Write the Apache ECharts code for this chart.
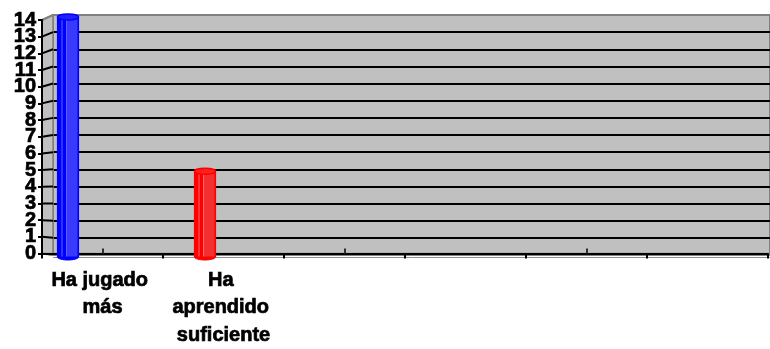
<!DOCTYPE html>
<html>
<head>
<meta charset="utf-8">
<script src="https://cdn.jsdelivr.net/npm/echarts@6/dist/echarts.min.js"></script>
<style>
  html, body { margin: 0; padding: 0; background: #ffffff; }
  #chart { width: 770px; height: 349px; }
</style>
</head>
<body>
<div id="chart"></div>
<script>
// Category labels (six slots on the axis, two of them used)
const categories = ['Ha jugado más', 'Ha aprendido suficiente', '', '', '', ''];
// Series values per category
const jugadoMas = [14, null, null, null, null, null];
const aprendidoSuficiente = [null, 5, null, null, null, null];
// Value axis ticks
const yTicks = [0, 1, 2, 3, 4, 5, 6, 7, 8, 9, 10, 11, 12, 13, 14];

const FONT = '"Liberation Sans", Arial, sans-serif';
const FRONT_LEFT = 42, WALL_LEFT = 53;
const WALL_GRAY = '#C0C0C0', EDGE_GRAY = '#808080';

const seriesStyles = [
  { body: '#0000FF', light: '#3A3AFF', line: '#6060FF', cap: '#2020FF', offset: -8 },
  { body: '#FF0000', light: '#F23030', line: '#FF6A6A', cap: '#FF2020', offset: 8 }
];

function toPairs(arr) {
  const out = [];
  arr.forEach((v, i) => { if (v !== null) out.push([i, v]); });
  return out;
}

// Cylinder-shaped column drawn from the value through the axis scale
function cylinder(params, api) {
  const st = seriesStyles[params.seriesIndex];
  const cat = api.value(0), val = api.value(1);
  const top = api.coord([cat, val]);
  const base = api.coord([cat, 0]);
  const w = 21, ry = 3;
  const cx = top[0] + st.offset;
  const x0 = cx - w / 2;
  const h = base[1] - top[1];
  return {
    type: 'group',
    children: [
      { type: 'ellipse', shape: { cx: cx, cy: base[1], rx: w / 2, ry: ry },
        style: { fill: st.body, stroke: st.body, lineWidth: 1 } },
      { type: 'rect', shape: { x: x0, y: top[1], width: w, height: h },
        style: { fill: st.body } },
      { type: 'rect', shape: { x: x0 + 9, y: top[1], width: w - 10, height: h },
        style: { fill: st.light } },
      { type: 'line', shape: { x1: x0 + 4.5, y1: top[1], x2: x0 + 4.5, y2: base[1] },
        style: { stroke: st.line, lineWidth: 1 } },
      { type: 'line', shape: { x1: x0 + 9, y1: top[1], x2: x0 + 9, y2: base[1] },
        style: { stroke: st.line, lineWidth: 1 } },
      { type: 'rect', shape: { x: x0, y: top[1], width: w, height: h },
        style: { fill: 'none', stroke: st.body, lineWidth: 1.2 } },
      { type: 'ellipse', shape: { cx: cx, cy: top[1], rx: w / 2, ry: ry },
        style: { fill: st.cap, stroke: st.body, lineWidth: 1.5 } }
    ]
  };
}

const chart = echarts.init(document.getElementById('chart'), null, { renderer: 'canvas' });

const valueAxisBase = { type: 'value', min: 0, max: 14, interval: 1 };
// heavy black label text
const heavyText = { fontFamily: FONT, fontWeight: 'bold', color: '#000000',
  textBorderColor: '#000000', textBorderWidth: 0.7 };
const evenTicks = yTicks.filter(v => v % 2 === 0);
const oddTicks = yTicks.filter(v => v % 2 === 1);

chart.setOption({
  animation: false,
  backgroundColor: '#ffffff',
  grid: [
    // front plane: axes and labels
    { left: FRONT_LEFT, right: 2, top: 20, bottom: 88, containLabel: false },
    // back wall
    { left: WALL_LEFT, right: 0, top: 15, bottom: 94, show: true,
      backgroundColor: WALL_GRAY, borderColor: EDGE_GRAY, borderWidth: 2, z: 0 },
    // plane holding the columns
    { left: 15.5, right: 28.5, top: 17, bottom: 92 }
  ],
  xAxis: [
    { type: 'category', gridIndex: 0, position: 'bottom', data: categories, boundaryGap: true, z: 4,
      axisLine: { show: true, lineStyle: { color: '#000000', width: 2 } },
      axisTick: { show: true, length: 5, lineStyle: { color: '#000000', width: 2 } },
      axisLabel: Object.assign({ interval: 0, margin: 13, fontSize: 20, lineHeight: 27.5,
        width: 118, overflow: 'break', align: 'center' }, heavyText),
      splitLine: { show: false } },
    { type: 'category', gridIndex: 0, position: 'bottom', offset: 0, data: categories, boundaryGap: true, z: 4,
      axisLine: { show: false },
      axisTick: { show: true, inside: true, alignWithLabel: true, length: 5,
        lineStyle: { color: '#303030', width: 2 } },
      axisLabel: { show: false }, splitLine: { show: false } },
    { type: 'category', gridIndex: 1, data: categories, show: false },
    { type: 'category', gridIndex: 2, data: categories, show: false }
  ],
  yAxis: [
    // front value axis: line, ticks and even labels
    Object.assign({}, valueAxisBase, { gridIndex: 0, position: 'left', offset: 0, z: 4,
      axisLine: { show: true, lineStyle: { color: '#000000', width: 2 } },
      axisTick: { show: true, length: 4, lineStyle: { color: '#000000', width: 2 } },
      axisLabel: Object.assign({ margin: 6, fontSize: 20, customValues: evenTicks,
        showMinLabel: true, showMaxLabel: true }, heavyText),
      splitLine: { show: false } }),
    // back wall grid lines
    Object.assign({}, valueAxisBase, { gridIndex: 1,
      axisLine: { show: false }, axisTick: { show: false }, axisLabel: { show: false },
      splitLine: { show: true, showMinLine: false, showMaxLine: false,
        lineStyle: { color: '#000000', width: 2 } } }),
    // column plane
    Object.assign({}, valueAxisBase, { gridIndex: 2, show: false }),
    // front value axis: odd labels
    Object.assign({}, valueAxisBase, { gridIndex: 0, position: 'left', offset: 0, z: 4,
      axisLine: { show: false }, axisTick: { show: false },
      axisLabel: Object.assign({ margin: 6, fontSize: 20, customValues: oddTicks }, heavyText),
      splitLine: { show: false } })
  ],
  series: [
    { type: 'custom', name: 'Ha jugado más', xAxisIndex: 3, yAxisIndex: 2, z: 6,
      renderItem: cylinder, data: toPairs(jugadoMas) },
    { type: 'custom', name: 'Ha aprendido suficiente', xAxisIndex: 3, yAxisIndex: 2, z: 6,
      renderItem: cylinder, data: toPairs(aprendidoSuficiente) }
  ]
});

// Side wall and floor, placed from the two value scales
const yFront = v => chart.convertToPixel({ yAxisIndex: 0 }, v);
const yWall = v => chart.convertToPixel({ yAxisIndex: 1 }, v);
const floorFront = yFront(0), floorBack = yWall(0);
const right = 770;

const elements = [
  { type: 'polygon', z: 1,
    shape: { points: [[FRONT_LEFT, yFront(14)], [WALL_LEFT, yWall(14)], [WALL_LEFT, floorBack], [FRONT_LEFT, floorFront]] },
    style: { fill: WALL_GRAY, stroke: EDGE_GRAY, lineWidth: 1.5 } },
  { type: 'polygon', z: 1,
    shape: { points: [[FRONT_LEFT, floorFront], [WALL_LEFT, floorBack], [right, floorBack], [right, floorFront]] },
    style: { fill: WALL_GRAY, stroke: EDGE_GRAY, lineWidth: 1.5 } },
  { type: 'line', z: 1,
    shape: { x1: WALL_LEFT, y1: floorBack + 2.5, x2: right, y2: floorBack + 2.5 },
    style: { stroke: '#909090', lineWidth: 1 } }
];
yTicks.forEach(v => {
  const edge = (v === 0 || v === 14);
  elements.push({ type: 'line', z: 2,
    shape: { x1: FRONT_LEFT, y1: yFront(v), x2: WALL_LEFT, y2: yWall(v) },
    style: { stroke: edge ? EDGE_GRAY : '#000000', lineWidth: 2 } });
});
chart.setOption({ graphic: { elements: elements } });
</script>
</body>
</html>
